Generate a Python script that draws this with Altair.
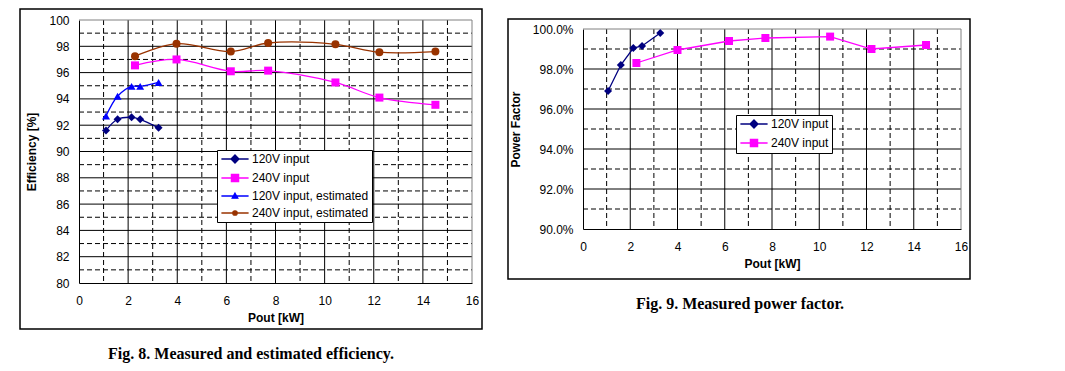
import altair as alt
import pandas as pd

# ---------------- Fig. 8 data (efficiency, %) ----------------
eff_series = ["120V input", "240V input", "120V input, estimated", "240V input, estimated"]
eff_pout_120 = [1.10, 1.57, 2.14, 2.49, 3.24]
eff_120 = [91.6, 92.45, 92.6, 92.45, 91.8]
eff_120_est = [92.7, 94.2, 94.95, 94.95, 95.25]
eff_pout_240 = [2.28, 3.97, 6.18, 7.70, 10.44, 12.23, 14.51]
eff_240 = [96.55, 97.0, 96.1, 96.15, 95.25, 94.1, 93.55]
eff_240_est = [97.25, 98.2, 97.6, 98.25, 98.15, 97.55, 97.6]

# ---------------- Fig. 9 data (power factor) ----------------
pf_series = ["120V input", "240V input"]
pf_pout_120 = [1.06, 1.60, 2.13, 2.50, 3.27]
pf_120 = [0.969, 0.982, 0.9905, 0.9915, 0.998]
pf_pout_240 = [2.26, 4.00, 6.18, 7.72, 10.46, 12.21, 14.52]
pf_240 = [0.983, 0.9895, 0.994, 0.9955, 0.9962, 0.990, 0.992]

# ---------------- ticks / grid ----------------
x_dom = [0, 16]
x_ticks = [0, 2, 4, 6, 8, 10, 12, 14, 16]
x_major_grid = [2, 4, 6, 8, 10, 12, 14]
x_minor_grid = [1, 3, 5, 7, 9, 11, 13, 15]
eff_dom = [80, 100]
eff_ticks = [80, 82, 84, 86, 88, 90, 92, 94, 96, 98, 100]
eff_major_grid = [82, 84, 86, 88, 90, 92, 94, 96, 98]
eff_minor_grid = [81, 83, 85, 87, 89, 91, 93, 95, 97, 99]
pf_dom = [0.90, 1.00]
pf_ticks = [0.90, 0.92, 0.94, 0.96, 0.98, 1.00]
pf_major_grid = [0.92, 0.94, 0.96, 0.98]
pf_minor_grid = [0.91, 0.93, 0.95, 0.97, 0.99]

eff_colors = ["#000080", "#FF00FF", "#0000FF", "#993300"]
eff_shapes = ["diamond", "square", "triangle-up", "circle"]
eff_sizes = [64, 64, 30, 25]
pf_colors = ["#000080", "#FF00FF"]
pf_shapes = ["diamond", "square"]
pf_sizes = [50, 60]

LINE = "M-3.4,0H3.4"
legend_paths = {
    "diamond": LINE + "M0,-1L1,0L0,1L-1,0Z",
    "square": LINE + "M-0.9,-0.9H0.9V0.9H-0.9Z",
    "triangle-up": LINE + "M0,-0.7L0.7,0.55L-0.7,0.55Z",
    "circle": LINE + "M-0.55,0A0.55,0.55 0 1,0 0.55,0A0.55,0.55 0 1,0 -0.55,0Z",
}

caption8 = "Fig. 8. Measured and estimated efficiency."
caption9 = "Fig. 9. Measured power factor."

SANS = "Liberation Sans"
SERIF = "Liberation Serif"


def long_df(pairs):
    rows = []
    for name, xs, ys in pairs:
        for x, y in zip(xs, ys):
            rows.append({"series": name, "pout": x, "val": y})
    return pd.DataFrame(rows)


def panel(df, series, colors, shapes, sizes, ydom, yticks, yfmt, ytitle,
          ymajor, yminor, width, height, yrange, frame, caption, cap_xy, leg_xy,
          interp):
    xscale = alt.Scale(domain=x_dom, nice=False, zero=False)
    yscale = alt.Scale(domain=ydom, nice=False, zero=False, range=yrange)
    xaxis = alt.Axis(values=x_ticks, format="d", grid=False, ticks=False,
                     domainColor="black", domainWidth=1,
                     labelFont=SANS, labelFontSize=12, labelColor="black",
                     labelPadding=12, labelFlush=False, labelOverlap=False,
                     title="Pout [kW]", titleFont=SANS, titleFontSize=12,
                     titleFontWeight="bold", titleColor="black", titlePadding=6)
    yaxis = alt.Axis(values=yticks, format=yfmt, grid=False, ticks=False,
                     domainColor="black", domainWidth=1,
                     labelFont=SANS, labelFontSize=12, labelColor="black",
                     labelPadding=10, labelFlush=False, labelOverlap=False,
                     title=ytitle, titleFont=SANS, titleFontSize=12,
                     titleFontWeight="bold", titleColor="black", titlePadding=10)
    X = alt.X("pout:Q", scale=xscale, axis=xaxis)
    Y = alt.Y("val:Q", scale=yscale, axis=yaxis)

    def xrule(vals, color, dash):
        kw = dict(color=color, strokeWidth=1)
        if dash:
            kw["strokeDash"] = [5, 3]
        return alt.Chart(pd.DataFrame({"v": vals})).mark_rule(**kw).encode(
            x=alt.X("v:Q", scale=xscale, axis=xaxis),
            y=alt.datum(ydom[1], scale=yscale, axis=yaxis), y2=alt.datum(ydom[0]))

    def yrule(vals, color, dash):
        kw = dict(color=color, strokeWidth=1)
        if dash:
            kw["strokeDash"] = [5, 3]
        return alt.Chart(pd.DataFrame({"v": vals})).mark_rule(**kw).encode(
            y=alt.Y("v:Q", scale=yscale, axis=yaxis),
            x=alt.datum(x_dom[0], scale=xscale, axis=xaxis), x2=alt.datum(x_dom[1]))

    grid = [xrule(x_major_grid, "black", False), xrule(x_minor_grid, "black", True),
            yrule(ymajor, "black", False), yrule(yminor, "black", True),
            xrule([x_dom[1]], "#808080", False), yrule([ydom[1]], "#808080", False)]

    color = alt.Color("series:N", scale=alt.Scale(domain=series, range=colors), legend=None)
    base = alt.Chart(df)
    lines = base.mark_line(strokeWidth=1.3, interpolate=interp).encode(X, Y, color)
    pts = base.mark_point(filled=True, opacity=1).encode(
        X, Y, color,
        shape=alt.Shape("series:N", scale=alt.Scale(domain=series, range=shapes), legend=None),
        size=alt.Size("series:N", scale=alt.Scale(domain=series, range=sizes), legend=None),
    )

    leg = alt.Legend(orient="none", legendX=leg_xy[0], legendY=leg_xy[1], title=None,
                     strokeColor="black", fillColor="white", padding=3,
                     labelFont=SANS, labelFontSize=12, labelColor="black",
                     symbolSize=64, symbolStrokeWidth=1.3, symbolOffset=9,
                     labelOffset=11, rowPadding=5, zindex=1)
    legend_layer = base.transform_filter("false").mark_point(
        opacity=1, size=64, strokeWidth=1.3).encode(
        X, Y,
        fill=alt.Fill("series:N", scale=alt.Scale(domain=series, range=colors), legend=leg),
        stroke=alt.Stroke("series:N", scale=alt.Scale(domain=series, range=colors), legend=leg),
        shape=alt.Shape("series:N", scale=alt.Scale(domain=series,
                                                    range=[legend_paths[s] for s in shapes]),
                        legend=leg),
    )

    one = alt.Chart(pd.DataFrame({"k": [0]}))
    box = one.mark_rect(fillOpacity=0, stroke="black", strokeWidth=1.5).encode(
        x=alt.value(frame[0]), x2=alt.value(frame[1]),
        y=alt.value(frame[2]), y2=alt.value(frame[3]))
    cap = one.mark_text(font=SERIF, fontSize=16, fontWeight="bold", color="black",
                        align="center", baseline="middle").encode(
        x=alt.value(cap_xy[0]), y=alt.value(cap_xy[1]), text=alt.value(caption))
    layers = grid + [lines, pts, legend_layer, box, cap]
    return alt.layer(*layers).resolve_scale(
        shape="independent", fill="independent", stroke="independent"
    ).properties(width=width, height=height)


eff_df = long_df([
    ("120V input", eff_pout_120, eff_120),
    ("240V input", eff_pout_240, eff_240),
    ("120V input, estimated", eff_pout_120, eff_120_est),
    ("240V input, estimated", eff_pout_240, eff_240_est),
])
pf_df = long_df([
    ("120V input", pf_pout_120, pf_120),
    ("240V input", pf_pout_240, pf_240),
])

left = panel(eff_df, eff_series, eff_colors, eff_shapes, eff_sizes,
             eff_dom, eff_ticks, "d", "Efficiency [%]",
             eff_major_grid, eff_minor_grid, 393, 263, [263, 0],
             frame=(-59, 403, -11, 309), caption=caption8, cap_xy=(172, 334),
             leg_xy=(138, 130), interp="catmull-rom")
right = panel(pf_df, pf_series, pf_colors, pf_shapes, pf_sizes,
              pf_dom, pf_ticks, ".1%", "Power Factor",
              pf_major_grid, pf_minor_grid, 378, 209, [209, 9],
              frame=(-75, 387, -1, 259), caption=caption9, cap_xy=(157, 284),
              leg_xy=(153, 95), interp="linear")

chart = alt.hconcat(left, right, spacing=24).properties(
    padding={"left": 11, "top": 0, "right": 5, "bottom": 5}
).configure_view(stroke=None)

chart.save("out.html", embed_options={"renderer": "svg", "actions": False})
